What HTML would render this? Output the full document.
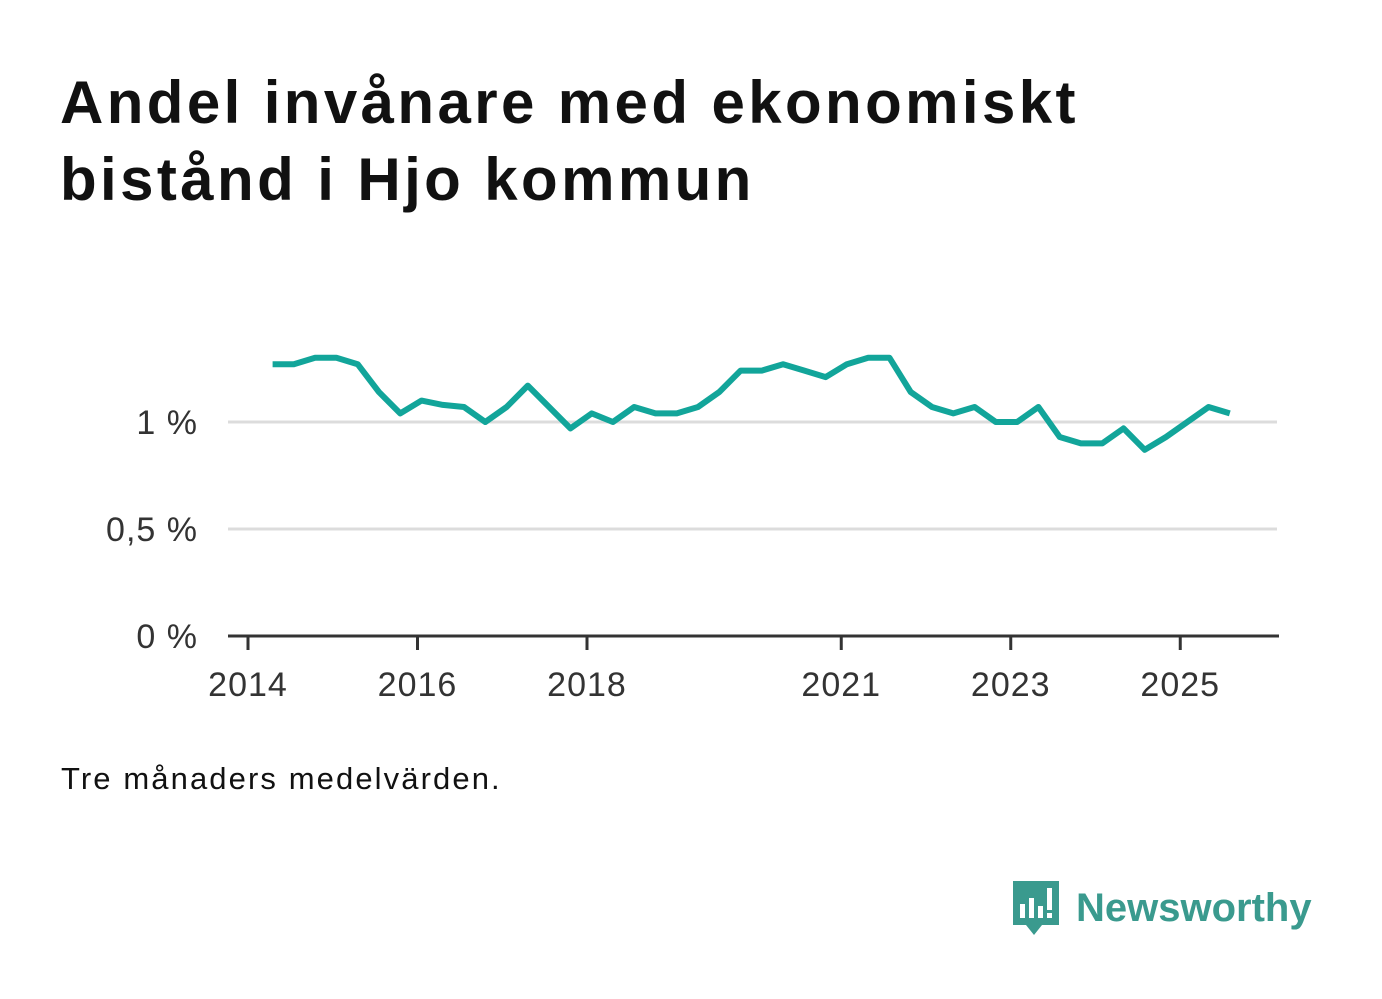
<!DOCTYPE html>
<html><head><meta charset="utf-8"><style>
html,body{margin:0;padding:0;background:#fff;}
body{width:1382px;height:999px;position:relative;overflow:hidden;font-family:"Liberation Sans",sans-serif;}
h1{position:absolute;left:60px;top:64px;margin:0;font-size:60px;line-height:77px;font-weight:bold;color:#111;letter-spacing:3.4px;}
.note{position:absolute;left:61px;top:761px;font-size:31px;color:#111;letter-spacing:2.1px;}
.logo{position:absolute;left:1010px;top:878px;display:flex;align-items:center;}
.logo span{font-size:40px;font-weight:bold;color:#3a9a8e;margin-left:14px;}
svg text{font-family:"Liberation Sans",sans-serif;}
</style></head><body>
<h1>Andel invånare med ekonomiskt<br>bistånd i Hjo kommun</h1>
<svg id="chart" width="1382" height="999" style="position:absolute;left:0;top:0"></svg>
<div class="note">Tre månaders medelvärden.</div>
<div class="logo">
<svg width="52" height="60" viewBox="0 0 52 60"><path d="M3 3h46v44H32l-8 10-8-10H3z" fill="#3a9a8e"/><rect x="10" y="26" width="5" height="14" fill="#fff"/><rect x="19" y="20" width="5" height="20" fill="#fff"/><rect x="28" y="28" width="5" height="12" fill="#fff"/><rect x="37" y="10" width="5" height="22" fill="#fff"/><rect x="37" y="35" width="5" height="5" fill="#fff"/></svg>
<span>Newsworthy</span></div>
<script>
const startYear = 2014.29;
const stepYears = 0.251;
const values = [1.27,1.27,1.30,1.30,1.27,1.14,1.04,1.10,1.08,1.07,1.00,1.07,1.17,1.07,0.97,1.04,1.00,1.07,1.04,1.04,1.07,1.14,1.24,1.24,1.27,1.24,1.21,1.27,1.30,1.30,1.14,1.07,1.04,1.07,1.00,1.00,1.07,0.93,0.90,0.90,0.97,0.87,0.93,1.00,1.07,1.04];
const yTicks = [0,0.5,1];
const yLabels = ["0 %","0,5 %","1 %"];
const xTicks = [2014,2016,2018,2021,2023,2025];
const NS="http://www.w3.org/2000/svg";
const svg=document.getElementById('chart');
const x=d=>248+(d-2014)*84.75;
const y=v=>636-v*214;
function mk(t,a){const e=document.createElementNS(NS,t);for(const k in a)e.setAttribute(k,a[k]);svg.appendChild(e);return e;}
yTicks.forEach((t,i)=>{
  if(t>0){const g=mk('line',{x1:228,x2:1277,y1:y(t),y2:y(t),stroke:'#dcdcdc','stroke-width':3});
  
  }
  const l=mk('text',{x:198,y:y(t)+12,'text-anchor':'end','font-size':34,fill:'#333','letter-spacing':1});
  l.textContent=yLabels[i];
  
  
});
const ax=mk('line',{x1:228,x2:1279,y1:636,y2:636,stroke:'#333','stroke-width':3});


xTicks.forEach(t=>{
  const tk=mk('line',{x1:x(t),x2:x(t),y1:636,y2:650,stroke:'#333','stroke-width':3});
  
  
  const l=mk('text',{x:x(t),y:696,'text-anchor':'middle','font-size':34,fill:'#333','letter-spacing':1});
  l.textContent=t;
  
  
});
const pts=values.map((v,i)=>x(startYear+i*stepYears).toFixed(1)+','+y(v).toFixed(1)).join(' ');
const line=mk('polyline',{points:pts,fill:'none',stroke:'#12a59a','stroke-width':6,'stroke-linejoin':'round'});


</script>
</body></html>
